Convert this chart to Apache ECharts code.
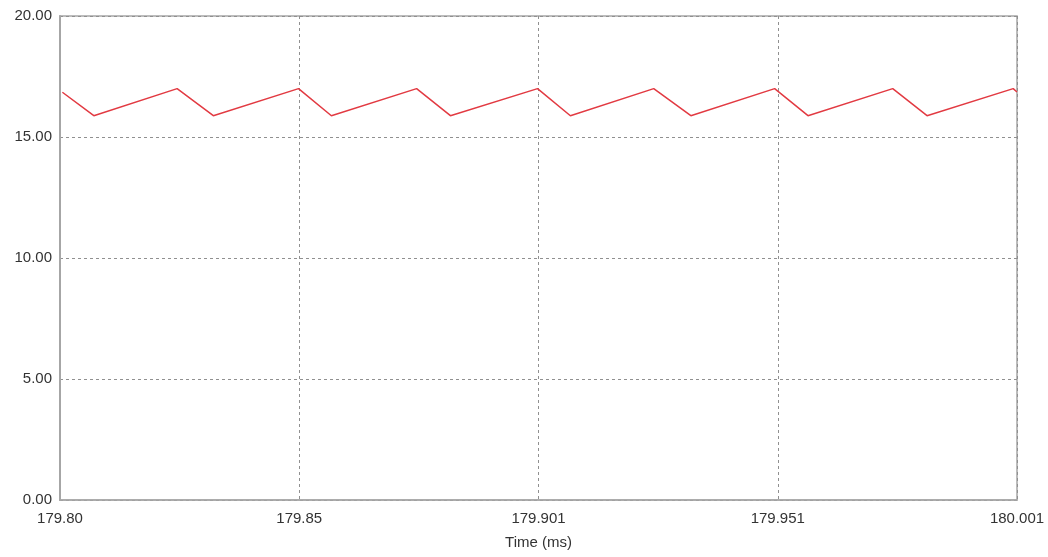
<!DOCTYPE html>
<html>
<head>
<meta charset="utf-8">
<script src="https://cdn.jsdelivr.net/npm/echarts@6/dist/echarts.min.js"></script>
<style>
  html, body { margin: 0; padding: 0; background: #fff; }
  #chart { width: 1048px; height: 557px; }
</style>
</head>
<body>
<div id="chart"></div>
<script>
// Sample times (ms) at the corners of the ripple waveform
const timeMs = [
  179.8005, 179.8071, 179.8246, 179.8322, 179.8501, 179.8570,
  179.8749, 179.8820, 179.9003, 179.9072, 179.9247, 179.9325,
  179.9501, 179.9571, 179.9749, 179.9821, 180.0002, 180.0010
];
// Signal level at each sample time
const level = [
  16.85, 15.88, 17.00, 15.88, 17.00, 15.88,
  17.00, 15.88, 17.00, 15.88, 17.00, 15.88,
  17.00, 15.88, 17.00, 15.88, 17.00, 16.86
];
// Time axis tick labels (quarter divisions of the window)
const timeTicks = ['179.80', '179.85', '179.901', '179.951', '180.001'];
const yTicks = ['0.00', '5.00', '10.00', '15.00', '20.00'];

const t0 = 179.8;          // window start, ms
const spanUs = 201;        // window length, µs
const stepUs = spanUs / 4; // gridline spacing, µs

const points = timeMs.map((t, i) => [(t - t0) * 1000, level[i]]);

const chart = echarts.init(document.getElementById('chart'));
const labelFont = { color: '#333', fontSize: 15, fontFamily: 'Liberation Sans, Arial, sans-serif' };
const gridDots = { color: '#909090', type: [3, 3], width: 1 };

chart.setOption({
  animation: false,
  backgroundColor: '#fff',
  grid: {
    left: 60, right: 31, top: 16, bottom: 57,
    show: true, borderColor: '#a6a6a6', borderWidth: 1.5
  },
  xAxis: {
    type: 'value',
    min: 0, max: spanUs, interval: stepUs,
    name: 'Time (ms)', nameLocation: 'middle', nameGap: 35,
    nameTextStyle: labelFont,
    axisLine: { show: true, lineStyle: { color: '#a6a6a6', width: 1.5 } },
    axisTick: { show: false },
    axisLabel: Object.assign({
      margin: 11,
      formatter: v => timeTicks[Math.round(v / stepUs)] || ''
    }, labelFont),
    splitLine: { show: true, lineStyle: gridDots }
  },
  yAxis: {
    type: 'value',
    min: 0, max: 20, interval: 5,
    axisLine: { show: true, lineStyle: { color: '#a6a6a6', width: 2 } },
    axisTick: { show: false },
    axisLabel: Object.assign({
      margin: 8,
      formatter: v => yTicks[Math.round(v / 5)]
    }, labelFont),
    splitLine: { show: true, lineStyle: gridDots }
  },
  series: [{
    type: 'line',
    data: points,
    showSymbol: false,
    lineStyle: { color: '#e23a42', width: 1.5 },
    z: 3
  }]
});
</script>
</body>
</html>
